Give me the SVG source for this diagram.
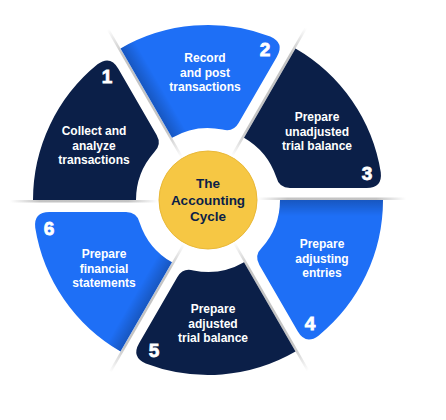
<svg xmlns="http://www.w3.org/2000/svg" xmlns:xlink="http://www.w3.org/1999/xlink" width="446" height="420" viewBox="0 0 446 420">
<style>
.navy{fill:#0b1f48}
.blue{fill:#1e6ff6}
.lbl{font-family:"Liberation Sans",Arial,sans-serif;font-weight:700;font-size:12px;fill:#fff;text-anchor:middle}
.num{font-family:"Liberation Sans",Arial,sans-serif;font-weight:900;font-size:19px;fill:#fff;stroke:#fff;stroke-width:0.8;text-anchor:middle}
.ctr{font-family:"Liberation Sans",Arial,sans-serif;font-weight:700;font-size:13.5px;fill:#0b1f48;text-anchor:middle}
.gap{fill:url(#sh)}
.fold{fill:url(#fold)}
</style>
<defs>
<path id="seg" d="M72,0 L175,0 A175,175 0 0 1 110.5,135.7 Q97.69,145.2 89.69,131.34 L51.39,65 Q45.89,55.48 53.8,47.85 A72,72 0 0 0 72,0 Z"/>
<clipPath id="segclip"><use xlink:href="#seg"/></clipPath>
<linearGradient id="sh" x1="50" y1="0" x2="198" y2="0" gradientUnits="userSpaceOnUse">
<stop offset="0" stop-color="#bdbdbd" stop-opacity="0"/>
<stop offset="0.2" stop-color="#bdbdbd" stop-opacity="0.9"/>
<stop offset="0.8" stop-color="#bdbdbd" stop-opacity="0.9"/>
<stop offset="1" stop-color="#bdbdbd" stop-opacity="0"/>
</linearGradient>
<linearGradient id="fold" x1="0" y1="0" x2="0" y2="16" gradientUnits="userSpaceOnUse">
<stop offset="0" stop-color="#000" stop-opacity="0.22"/>
<stop offset="1" stop-color="#000" stop-opacity="0"/>
</linearGradient>
</defs>
<rect width="446" height="420" fill="#fff"/>
<g id="connectors">
<rect class="gap" x="50" y="-2.5" width="148" height="2.5" transform="translate(208 200) rotate(0)"/>
<rect class="gap" x="50" y="-2.5" width="148" height="2.5" transform="translate(208 200) rotate(60)"/>
<rect class="gap" x="50" y="-2.5" width="148" height="2.5" transform="translate(208 200) rotate(120)"/>
<rect class="gap" x="50" y="-2.5" width="148" height="2.5" transform="translate(208 200) rotate(180)"/>
<rect class="gap" x="50" y="-2.5" width="148" height="2.5" transform="translate(208 200) rotate(240)"/>
<rect class="gap" x="50" y="-2.5" width="148" height="2.5" transform="translate(208 200) rotate(300)"/>
</g>
<g id="step1">
<use xlink:href="#seg" class="navy" transform="translate(208 200) rotate(180)"/>
<text class="num" x="107" y="83">1</text>
<text class="lbl" x="94" y="135">Collect and</text>
<text class="lbl" x="94" y="149.5">analyze</text>
<text class="lbl" x="94" y="164">transactions</text>
</g>
<g id="step2">
<use xlink:href="#seg" class="blue" transform="translate(208 200) rotate(240)"/>
<rect class="fold" x="60" y="0" width="130" height="16" clip-path="url(#segclip)" transform="translate(208 200) rotate(240)"/>
<text class="num" x="265" y="56">2</text>
<text class="lbl" x="205" y="62">Record</text>
<text class="lbl" x="205" y="76.5">and post</text>
<text class="lbl" x="205" y="91">transactions</text>
</g>
<g id="step3">
<use xlink:href="#seg" class="navy" transform="translate(208 200) rotate(300)"/>
<text class="num" x="367" y="180">3</text>
<text class="lbl" x="317" y="121">Prepare</text>
<text class="lbl" x="317" y="135.5">unadjusted</text>
<text class="lbl" x="317" y="150">trial balance</text>
</g>
<g id="step4">
<use xlink:href="#seg" class="blue" transform="translate(208 200) rotate(0)"/>
<rect class="fold" x="60" y="0" width="130" height="16" clip-path="url(#segclip)" transform="translate(208 200) rotate(0)"/>
<text class="num" x="310" y="330">4</text>
<text class="lbl" x="322" y="248">Prepare</text>
<text class="lbl" x="322" y="262.5">adjusting</text>
<text class="lbl" x="322" y="277">entries</text>
</g>
<g id="step5">
<use xlink:href="#seg" class="navy" transform="translate(208 200) rotate(60)"/>
<text class="num" x="154" y="357">5</text>
<text class="lbl" x="213" y="313">Prepare</text>
<text class="lbl" x="213" y="327.5">adjusted</text>
<text class="lbl" x="213" y="342">trial balance</text>
</g>
<g id="step6">
<use xlink:href="#seg" class="blue" transform="translate(208 200) rotate(120)"/>
<rect class="fold" x="60" y="0" width="130" height="16" clip-path="url(#segclip)" transform="translate(208 200) rotate(120)"/>
<text class="num" x="49" y="235">6</text>
<text class="lbl" x="104" y="258">Prepare</text>
<text class="lbl" x="104" y="272.5">financial</text>
<text class="lbl" x="104" y="287">statements</text>
</g>
<g id="center">
<circle cx="208" cy="200" r="49" fill="#f6c744" stroke="#e9b838" stroke-width="1"/>
<text class="ctr" x="208" y="188">The</text>
<text class="ctr" x="208" y="204.5">Accounting</text>
<text class="ctr" x="208" y="221">Cycle</text>
</g>
</svg>
